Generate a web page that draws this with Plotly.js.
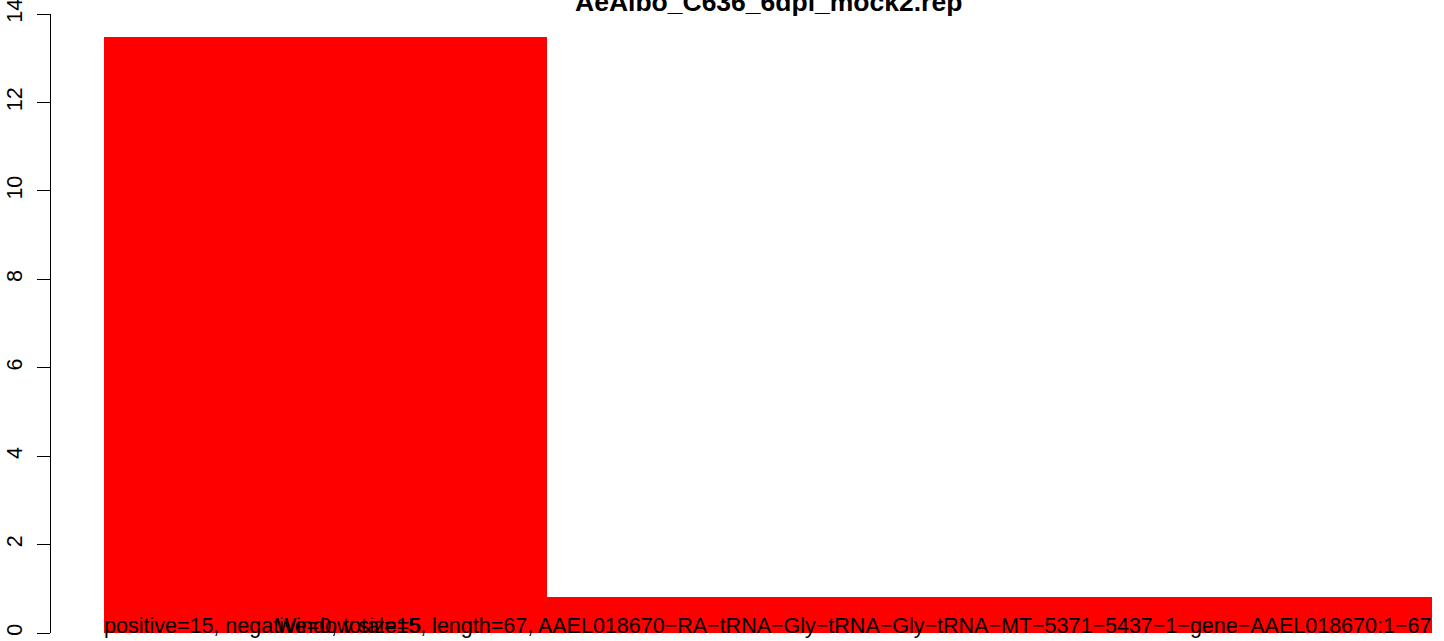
<!DOCTYPE html>
<html>
<head>
<meta charset="utf-8">
<script src="https://cdn.plot.ly/plotly-3.0.1.min.js"></script>
<style>html,body{margin:0;padding:0;background:#fff;}#chart{width:1444px;height:641px;}</style>
</head>
<body>
<div id="chart"></div>
<script>
// Data
var chartTitle = "AeAlbo_C636_6dpi_mock2.rep";
var barStarts = [0, 1];
var barWidths = [1, 2];
var barValues = [13.48, 0.81];
var yTickVals = [0, 2, 4, 6, 8, 10, 12, 14];
var yTickText = ["0", "2", "4", "6", "8", "10", "12", "14"];
var infoLabel = "positive=15, negative=0, total=15, length=67, AAEL018670\u2212RA\u2212tRNA\u2212Gly\u2212tRNA\u2212Gly\u2212tRNA\u2212MT\u22125371\u22125437\u22121\u2212gene\u2212AAEL018670:1\u221267";
var windowLabel = "Window size=5";

var centers = barStarts.map(function (s, i) { return s + barWidths[i] / 2; });

var font = "Liberation Sans, Arial, Helvetica, sans-serif";
var W = 1444, H = 641, mL = 50, mR = 12, mT = 14, mB = 8;
var plotW = W - mL - mR;
var domStart = (104 - mL) / plotW;

var trace = {
  type: "bar",
  x: centers,
  y: barValues,
  width: barWidths,
  marker: { color: "#FF0000", line: { width: 0 } },
  hoverinfo: "none"
};

var layout = {
  width: W, height: H,
  margin: { l: mL, r: mR, t: mT, b: mB, pad: 0 },
  paper_bgcolor: "#fff", plot_bgcolor: "#fff",
  showlegend: false,
  bargap: 0,
  font: { family: font, color: "#000" },
  xaxis: {
    domain: [domStart, 1],
    range: [0, 3],
    visible: false,
    fixedrange: true
  },
  yaxis: {
    anchor: "free", position: 0,
    range: [0, 14],
    tickvals: yTickVals, ticktext: yTickText,
    tickangle: -90,
    ticks: "outside", ticklen: 13, tickwidth: 1, tickcolor: "#000",
    showline: true, linecolor: "#000", linewidth: 1,
    showgrid: false, zeroline: false,
    tickfont: { family: font, size: 21.5, color: "#000" },
    ticklabelstandoff: 6,
    ticklabeloverflow: "allow",
    automargin: false,
    fixedrange: true
  },
  annotations: [
    {
      text: "<b>" + chartTitle + "</b>",
      xref: "x", yref: "paper", x: 1.5, y: 1,
      xanchor: "center", yanchor: "bottom", yshift: -5,
      showarrow: false,
      font: { family: font, size: 26.5, color: "#000" }
    },
    {
      text: infoLabel,
      xref: "x", yref: "y", x: 0, y: 0,
      xanchor: "left", yanchor: "bottom", yshift: -7, xshift: -2,
      showarrow: false,
      font: { family: font, size: 21.5, color: "#000" }
    },
    {
      text: windowLabel,
      xref: "x", yref: "y", x: (276 - 104) / 442.67, y: 0,
      xanchor: "left", yanchor: "bottom", yshift: -7, xshift: -2,
      showarrow: false,
      font: { family: font, size: 21.5, color: "#000" }
    }
  ]
};

Plotly.newPlot("chart", [trace], layout, { displayModeBar: false, staticPlot: true });
</script>
</body>
</html>
